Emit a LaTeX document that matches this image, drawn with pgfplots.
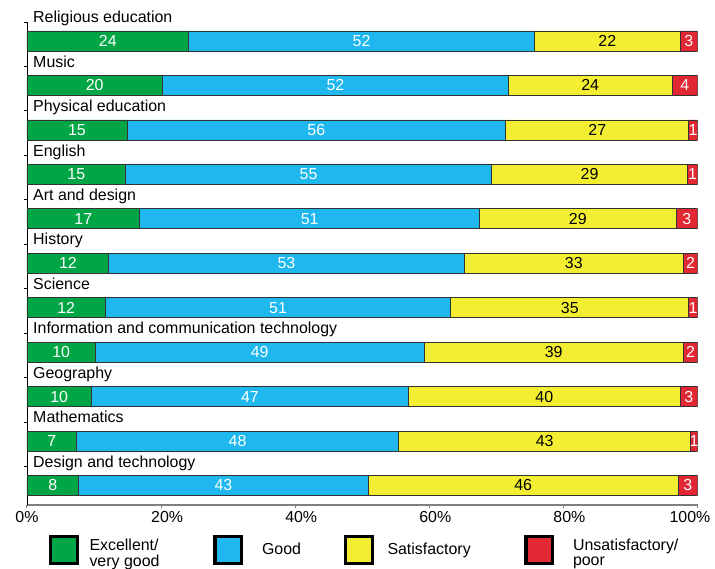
\documentclass[border=0pt]{standalone}
\usepackage{pgfplots}
\pgfplotsset{compat=1.18}
\usepackage{pgfplotstable}
\usepackage{fontspec}
\setmainfont{Liberation Sans}
\definecolor{cgreen}{RGB}{0,166,70}
\definecolor{cblue}{RGB}{30,184,238}
\definecolor{cyellow}{RGB}{244,238,50}
\definecolor{cred}{RGB}{226,40,50}
% widths of the segments (w), printed values (l), centres of the segments (m)
\pgfplotstableread{
idx w1 l1 m1 w2 l2 m2 w3 l3 m3 w4 l4 m4
0 24.1 24 12.05 51.6 52 49.90 21.7 22 86.55 2.6 3 98.70
1 20.2 20 10.10 51.6 52 46.00 24.4 24 84.00 3.8 4 98.10
2 14.9 15 7.45 56.5 56 43.15 27.3 27 85.05 1.3 1 99.35
3 14.7 15 7.35 54.6 55 42.00 29.2 29 83.90 1.5 1 99.25
4 16.8 17 8.40 50.7 51 42.15 29.3 29 82.15 3.2 3 98.40
5 12.2 12 6.10 53.0 53 38.70 32.7 33 81.55 2.1 2 98.95
6 11.7 12 5.85 51.5 51 37.45 35.5 35 80.95 1.3 1 99.35
7 10.2 10 5.10 49.0 49 34.70 38.7 39 78.55 2.1 2 98.95
8 9.6 10 4.80 47.3 47 33.25 40.5 40 77.15 2.6 3 98.70
9 7.4 7 3.70 48.0 48 31.40 43.6 43 77.20 1.0 1 99.50
10 7.7 8 3.85 43.2 43 29.30 46.2 46 74.00 2.9 3 98.55
}\data
\newcommand\fs{\fontsize{16}{16}\selectfont}
\newcommand\lfs{\fontsize{16}{15}\selectfont}
\pgfplotsset{common/.style={
  scale only axis, width=670.5bp, height=483bp,
  xmin=0, xmax=100, ymin=-0.427, ymax=10.44, y dir=reverse}}
\begin{document}
\begin{tikzpicture}
\begin{axis}[
  common,
  xbar stacked, bar width=20bp,
  axis x line*=bottom, axis y line*=left,
  x axis line style={draw=gray, line width=1.2bp, -},
  y axis line style={draw=black, line width=0.8bp, -},
  xtick={0,20,40,60,80,100},
  xticklabels={0\%,\hspace*{12bp}20\%,\hspace*{12bp}40\%,\hspace*{12bp}60\%,\hspace*{12bp}80\%,100\%\hspace*{15bp}},
  ytick={-0.427,0.573,1.573,2.573,3.573,4.573,5.573,6.573,7.573,8.573,9.573},
  yticklabel=\empty,
  tick align=outside, major tick length=3bp,
  xtick style={gray, line width=1bp}, ytick style={black, line width=0.8bp},
  ticklabel style={font=\fs},
  legend style={at={(0,0)}, anchor=north west, xshift=22bp, yshift=-30bp, draw=none, fill=none, inner sep=0pt, outer sep=0pt, font=\lfs, legend columns=4,
    nodes={inner sep=0pt, anchor=west},
    /tikz/every even column/.append style={column sep=11bp},
    /tikz/every odd column/.append style={column sep=0bp}},
  legend image code/.code={\draw[#1, draw=black, line width=3bp] (1.5bp,-13.25bp) rectangle (28bp,13.25bp);},
]
\addplot[fill=cgreen, draw=black!80, line width=0.7bp] table[x=w1, y=idx] {\data};
\addplot[fill=cblue, draw=black!80, line width=0.7bp] table[x=w2, y=idx] {\data};
\addplot[fill=cyellow, draw=black!80, line width=0.7bp] table[x=w3, y=idx] {\data};
\addplot[fill=cred, draw=black!80, line width=0.7bp] table[x=w4, y=idx] {\data};
\addlegendentry{\makebox[124bp][l]{\hspace*{11bp}\begin{tabular}{@{}l@{}}Excellent/\\very good\end{tabular}}}
\addlegendentry{\makebox[90bp][l]{\hspace*{19bp}Good}}
\addlegendentry{\makebox[140bp][l]{\hspace*{14bp}Satisfactory}}
\addlegendentry{\hspace*{19bp}\begin{tabular}{@{}l@{}}Unsatisfactory/\\poor\end{tabular}}
\end{axis}
\begin{axis}[
  common, axis lines=none, clip=false,
  point meta=explicit symbolic,
  nodes near coords,
  every node near coord/.append style={font=\fs, anchor=center, inner sep=0pt},
]
\addplot[draw=none, mark=none, every node near coord/.append style={text=white}] table[x=m1, y=idx, meta=l1] {\data};
\addplot[draw=none, mark=none, every node near coord/.append style={text=white}] table[x=m2, y=idx, meta=l2] {\data};
\addplot[draw=none, mark=none, every node near coord/.append style={text=black}] table[x=m3, y=idx, meta=l3] {\data};
\addplot[draw=none, mark=none, every node near coord/.append style={text=white}] table[x=m4, y=idx, meta=l4] {\data};
\node[anchor=base west, font=\fs, inner sep=0pt] at (axis cs:0.9,-0.41) {Religious education};
\node[anchor=base west, font=\fs, inner sep=0pt] at (axis cs:0.9,0.59) {Music};
\node[anchor=base west, font=\fs, inner sep=0pt] at (axis cs:0.9,1.59) {Physical education};
\node[anchor=base west, font=\fs, inner sep=0pt] at (axis cs:0.9,2.59) {English};
\node[anchor=base west, font=\fs, inner sep=0pt] at (axis cs:0.9,3.59) {Art and design};
\node[anchor=base west, font=\fs, inner sep=0pt] at (axis cs:0.9,4.59) {History};
\node[anchor=base west, font=\fs, inner sep=0pt] at (axis cs:0.9,5.59) {Science};
\node[anchor=base west, font=\fs, inner sep=0pt] at (axis cs:0.9,6.59) {Information and communication technology};
\node[anchor=base west, font=\fs, inner sep=0pt] at (axis cs:0.9,7.59) {Geography};
\node[anchor=base west, font=\fs, inner sep=0pt] at (axis cs:0.9,8.59) {Mathematics};
\node[anchor=base west, font=\fs, inner sep=0pt] at (axis cs:0.9,9.59) {Design and technology};
\end{axis}
\pgfresetboundingbox
\path ([xshift=-27bp,yshift=-64bp]current axis.south west) rectangle ([xshift=17.5bp,yshift=22bp]current axis.north east);
\end{tikzpicture}
\end{document}
